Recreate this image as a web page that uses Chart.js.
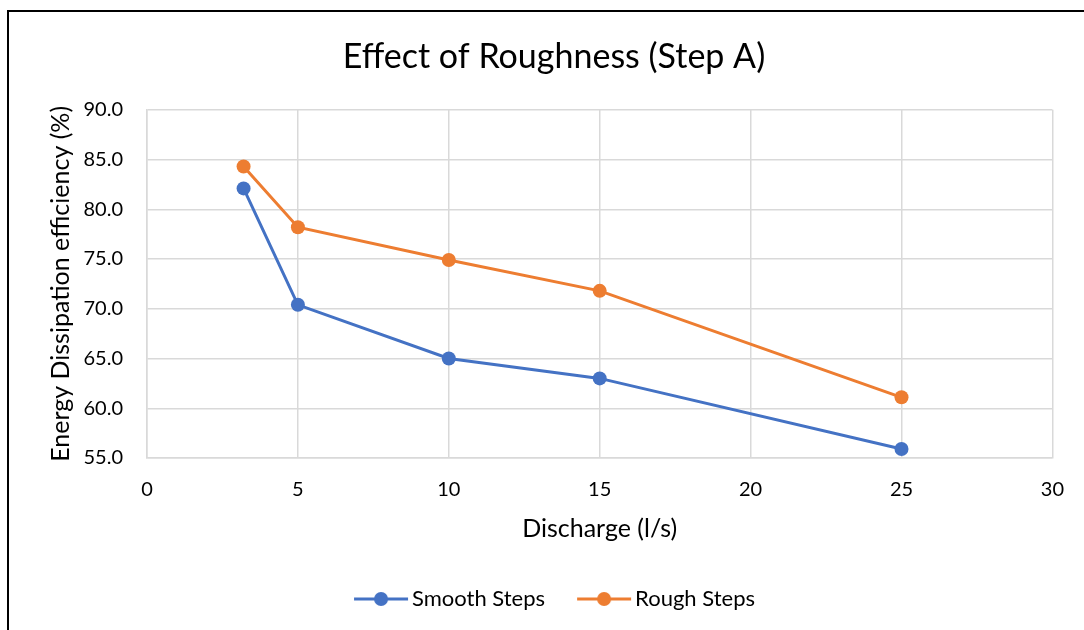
<!DOCTYPE html>
<html>
<head>
<meta charset="utf-8">
<script src="https://cdn.jsdelivr.net/npm/chart.js@4.4.1/dist/chart.umd.min.js"></script>
<style>
  html, body { margin: 0; padding: 0; background: #fff; }
  #wrap { position: relative; width: 1084px; height: 630px; overflow: hidden; }
  #frame { position: absolute; left: 7px; top: 10px; width: 1200px; height: 700px; border: 2px solid #000; box-sizing: border-box; }
  #c { position: absolute; left: 0; top: 0; }
</style>
</head>
<body>
<div id="wrap">
  <div id="frame"></div>
  <canvas id="c" width="1084" height="630"></canvas>
</div>
<script>
const discharge = [3.2, 5, 10, 15, 25];
const smoothSteps = [82.1, 70.4, 65.0, 63.0, 55.9];
const roughSteps = [84.3, 78.2, 74.9, 71.8, 61.1];
const seriesNames = ['Smooth Steps', 'Rough Steps'];
const chartTitle = 'Effect of Roughness (Step A)';
const xTitle = 'Discharge (l/s)';
const yTitle = 'Energy Dissipation efficiency (%)';

const FONT = 'Lato, "Open Sans", sans-serif';
const BLUE = '#4472C4';
const ORANGE = '#ED7D31';

function legendMarker(color) {
  const cv = document.createElement('canvas');
  cv.width = 56; cv.height = 16;
  const g = cv.getContext('2d');
  g.strokeStyle = color; g.lineWidth = 3;
  g.beginPath(); g.moveTo(1, 8); g.lineTo(55, 8); g.stroke();
  g.fillStyle = color;
  g.beginPath(); g.arc(28, 8, 7, 0, Math.PI * 2); g.fill();
  return cv;
}

const toPts = (ys) => discharge.map((x, i) => ({ x: x, y: ys[i] }));

// Excel centres title and legend on the whole chart frame, which extends past the right edge
const shiftBlocks = {
  id: 'shiftBlocks',
  afterLayout(chart) {
    if (chart.titleBlock) { chart.titleBlock.left += 18; chart.titleBlock.right += 18; }
    if (chart.legend) { chart.legend.left += 22; chart.legend.right += 22; }
  }
};

new Chart(document.getElementById('c'), {
  type: 'line',
  data: {
    datasets: [
      { label: seriesNames[0], data: toPts(smoothSteps), borderColor: BLUE, backgroundColor: BLUE,
        borderWidth: 3, pointRadius: 7, pointHoverRadius: 7, pointBackgroundColor: BLUE, pointBorderWidth: 0 },
      { label: seriesNames[1], data: toPts(roughSteps), borderColor: ORANGE, backgroundColor: ORANGE,
        borderWidth: 3, pointRadius: 7, pointHoverRadius: 7, pointBackgroundColor: ORANGE, pointBorderWidth: 0 }
    ]
  },
  plugins: [shiftBlocks],
  options: {
    responsive: false,
    animation: false,
    layout: { padding: { left: 10, right: 22, top: 10, bottom: 10 } },
    plugins: {
      title: { display: true, text: chartTitle, color: '#000',
        font: { family: FONT, size: 34, weight: 'normal' }, padding: { top: 27, bottom: 32 } },
      legend: {
        position: 'bottom',
        labels: {
          usePointStyle: true,
          pointStyleWidth: 40,
          boxHeight: 16,
          color: '#000',
          font: { family: FONT, size: 22 },
          padding: 39,
          generateLabels: (chart) => chart.data.datasets.map((ds, i) => ({
            text: ds.label, fillStyle: ds.borderColor, strokeStyle: ds.borderColor,
            pointStyle: legendMarker(ds.borderColor), datasetIndex: i, lineWidth: 0, fontColor: '#000'
          }))
        }
      },
      tooltip: { enabled: false }
    },
    scales: {
      x: {
        type: 'linear', min: 0, max: 30,
        ticks: { stepSize: 5, color: '#000', font: { family: FONT, size: 20 }, padding: 20 },
        grid: { color: '#d9d9d9', lineWidth: 1.5, drawTicks: false },
        border: { color: '#d9d9d9', width: 1.5 },
        title: { display: true, text: xTitle, color: '#000', font: { family: FONT, size: 25 }, padding: { top: 12, bottom: 5 } },
        afterFit: (s) => { s.height = 91; }
      },
      y: {
        min: 55, max: 90,
        ticks: { stepSize: 5, color: '#000', font: { family: FONT, size: 20 }, padding: 24,
          callback: (v) => Number(v).toFixed(1) },
        grid: { color: '#d9d9d9', lineWidth: 1.5, drawTicks: false },
        border: { color: '#d9d9d9', width: 1.5 },
        title: { display: true, text: yTitle, color: '#000', font: { family: FONT, size: 25 }, padding: { top: 36, bottom: 0 } },
        afterFit: (s) => { s.width = 137; }
      }
    }
  }
});
</script>
</body>
</html>
